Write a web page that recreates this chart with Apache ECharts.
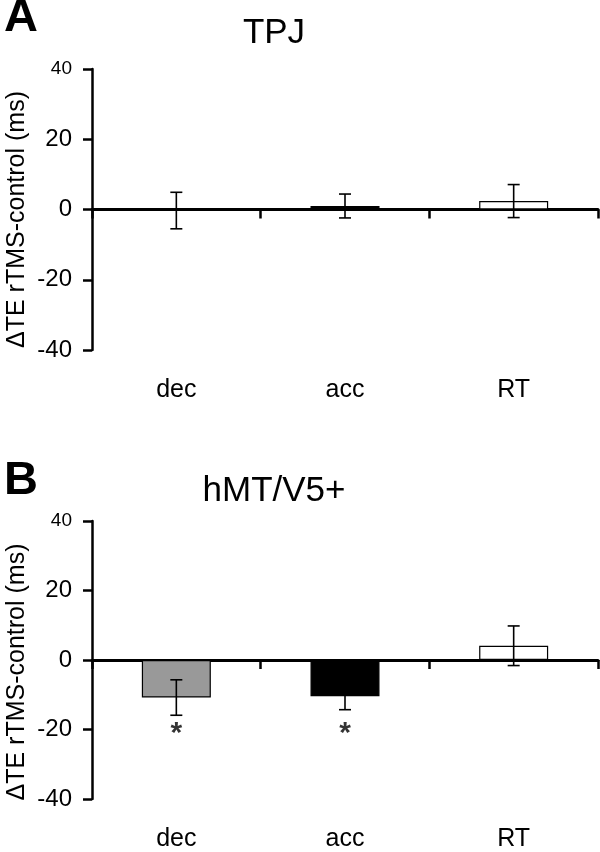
<!DOCTYPE html>
<html>
<head>
<meta charset="utf-8">
<script src="https://cdn.jsdelivr.net/npm/echarts@6/dist/echarts.min.js"></script>
<style>
html,body{margin:0;padding:0;background:#fff;}
#chart{width:600px;height:852px;}
</style>
</head>
<body>
<div id="chart"></div>
<script>
// ---- data ----
const categories = ['dec', 'acc', 'RT'];
const barColors = ['#999999', '#000000', '#ffffff'];
const tpjMean = [-0.3, 1.0, 2.4];
const tpjErr = [5.2, 3.4, 4.7];
const mtMean = [-10.8, -10.4, 4.1];
const mtErr = [5.1, 3.9, 5.7];
const starCats = ['dec', 'acc'];
const starY = [-19, -19];
const yMin = -40, yMax = 40, yStep = 20;
const panelLetters = ['A', 'B'];
const panelTitles = ['TPJ', 'hMT/V5+'];
const yTitle = '\u0394TE rTMS-control (ms)';

const FONT = 'Liberation Sans, Arial, sans-serif';
const chart = echarts.init(document.getElementById('chart'), null, {renderer: 'canvas'});

const grids = [
  {left: 92, right: 2, top: 69, height: 281},
  {left: 92, right: 2, top: 521, height: 282}
];

function errRender(params, api) {
  const x = api.value(0);
  const lo = api.coord([x, api.value(1)]);
  const hi = api.coord([x, api.value(2)]);
  const w = 6;
  const st = {stroke: '#000', lineWidth: 1.6};
  return {type: 'group', children: [
    {type: 'line', shape: {x1: lo[0], y1: lo[1], x2: hi[0], y2: hi[1]}, style: st},
    {type: 'line', shape: {x1: hi[0] - w, y1: hi[1], x2: hi[0] + w, y2: hi[1]}, style: st},
    {type: 'line', shape: {x1: lo[0] - w, y1: lo[1], x2: lo[0] + w, y2: lo[1]}, style: st}
  ]};
}

const xAxes = [], yAxes = [], series = [];
[0, 1].forEach(function (g) {
  xAxes.push({
    gridIndex: g, type: 'category', data: categories, position: 'bottom',
    axisLine: {onZero: true, lineStyle: {color: '#000', width: 3}},
    axisTick: {show: true, length: 9, lineStyle: {color: '#000', width: 2.5}},
    axisLabel: {show: false}, splitLine: {show: false}
  });
  xAxes.push({
    gridIndex: g, type: 'category', data: categories, position: 'bottom',
    axisLine: {show: false, onZero: false}, axisTick: {show: false},
    axisLabel: {show: true, margin: 28, color: '#000', fontSize: 25, fontFamily: FONT},
    splitLine: {show: false}
  });
  yAxes.push({
    gridIndex: g, type: 'value', min: yMin, max: yMax, interval: yStep,
    axisLine: {show: true, onZero: false, lineStyle: {color: '#000', width: 2.5}},
    axisTick: {show: true, length: 9, lineStyle: {color: '#000', width: 2.5}},
    splitLine: {show: false},
    axisLabel: {
      margin: 20, color: '#000', fontSize: 24, fontFamily: FONT,
      formatter: function (v) { return v === yMax ? '{s|' + v + '}' : String(v); },
      rich: {s: {fontSize: 19, fontFamily: FONT, color: '#000'}}
    }
  });
});

const means = [tpjMean, mtMean];
const errs = [tpjErr, mtErr];
[0, 1].forEach(function (g) {
  series.push({
    type: 'bar', xAxisIndex: g * 2, yAxisIndex: g, barWidth: 69,
    data: means[g].map(function (v, i) {
      return {value: v, itemStyle: {color: barColors[i], borderColor: '#000', borderWidth: 1.2}};
    }),
    emphasis: {disabled: true}, animation: false
  });
  series.push({
    type: 'custom', xAxisIndex: g * 2, yAxisIndex: g, renderItem: errRender,
    data: means[g].map(function (v, i) { return [i, v - errs[g][i], v + errs[g][i]]; }),
    z: 5, animation: false, silent: true
  });
});
series.push({
  type: 'scatter', xAxisIndex: 2, yAxisIndex: 1, symbolSize: 0,
  data: starCats.map(function (c, i) { return [c, starY[i]]; }),
  label: {show: true, position: 'inside', formatter: '*', color: '#000',
          fontSize: 30, fontWeight: 'bold', fontFamily: FONT, offset: [0, 8]},
  z: 6, animation: false, silent: true
});

const titleCenters = [33, 491];
const letterCenters = [18, 481];
const graphics = [];
[0, 1].forEach(function (g) {
  graphics.push({type: 'text', x: 4, y: letterCenters[g], style: {
    text: panelLetters[g], font: 'bold 47px ' + FONT, fill: '#000', textVerticalAlign: 'middle'}});
  graphics.push({type: 'text', x: 274, y: titleCenters[g], style: {
    text: panelTitles[g], font: '35px ' + FONT, fill: '#000', textAlign: 'center', textVerticalAlign: 'middle'}});
  graphics.push({type: 'text', x: 17, y: (grids[g].top + grids[g].height / 2) + 10, rotation: Math.PI / 2, style: {
    text: yTitle, font: '25px ' + FONT, fill: '#000', textAlign: 'center', textVerticalAlign: 'middle'}});
});

chart.setOption({
  animation: false,
  backgroundColor: '#fff',
  grid: grids,
  xAxis: xAxes,
  yAxis: yAxes,
  series: series,
  graphic: graphics
});
</script>
</body>
</html>
